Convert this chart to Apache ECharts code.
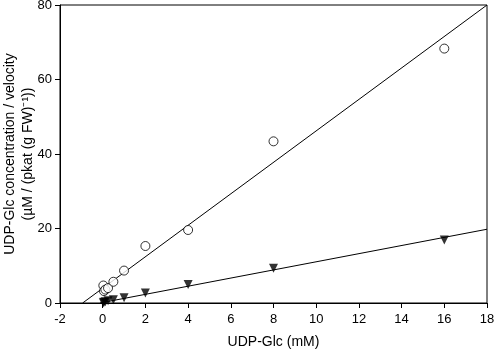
<!DOCTYPE html>
<html>
<head>
<meta charset="utf-8">
<script src="https://cdn.jsdelivr.net/npm/echarts@6/dist/echarts.min.js"></script>
<style>
  html, body { margin: 0; padding: 0; background: #fff; }
  #chart { width: 495px; height: 353px; }
</style>
</head>
<body>
<div id="chart"></div>
<script>
// UDP-Glc (mM)
var conc = [0.03, 0.06, 0.125, 0.25, 0.5, 1, 2, 4, 8, 16];
// open circles
var circleVals = [4.7, 3.2, 3.6, 4.0, 5.7, 8.7, 15.3, 19.6, 43.4, 68.3];
// filled triangles
var triVals = [0.1, 0.2, 0.35, 0.6, 0.9, 1.4, 2.7, 5.0, 9.3, 16.9];
// fitted lines (endpoints)
var circleFit = [[-0.94, 0], [18, 80]];
var triFit = [[-0.13, 0], [18, 19.8]];

var xTicks = { min: -2, max: 18, interval: 2 };
var yTicks = { min: 0, max: 80, interval: 20 };

function pairs(xs, ys) {
    return xs.map(function(x, i) { return [x, ys[i]]; });
}

var chart = echarts.init(document.getElementById('chart'));

var axisCommon = {
    axisLine: { onZero: false, lineStyle: { color: '#000', width: 1 } },
    axisTick: { show: true, inside: false, length: 5, lineStyle: { color: '#000' } },
    axisLabel: { color: '#000', fontSize: 13, fontFamily: 'Liberation Sans', margin: 8 },
    splitLine: { show: false },
    nameMoveOverlap: false,
    nameTextStyle: { color: '#000', fontSize: 14, fontFamily: 'Liberation Sans', lineHeight: 18 }
};

var option = {
    backgroundColor: '#fff',
    animation: false,
    grid: {
        left: 60, right: 8, top: 5, bottom: 50,
        outerBoundsMode: 'none', containLabel: false,
        show: true, borderColor: '#000', borderWidth: 1
    },
    xAxis: echarts.util.merge({
        type: 'value',
        min: xTicks.min, max: xTicks.max, interval: xTicks.interval,
        name: 'UDP-Glc (mM)',
        nameLocation: 'middle',
        nameGap: 30,
        axisLabel: { margin: 10 }
    }, axisCommon),
    yAxis: echarts.util.merge({
        type: 'value',
        min: yTicks.min, max: yTicks.max, interval: yTicks.interval,
        name: 'UDP-Glc concentration / velocity\n(µM / (pkat (g FW)⁻¹))',
        nameLocation: 'middle',
        nameGap: 23
    }, axisCommon),
    series: [
        {
            type: 'line',
            data: circleFit,
            symbol: 'none',
            lineStyle: { color: '#000', width: 1 },
            clip: true,
            z: 1
        },
        {
            type: 'line',
            data: triFit,
            symbol: 'none',
            lineStyle: { color: '#000', width: 1 },
            clip: true,
            z: 1
        },
        {
            type: 'scatter',
            data: pairs(conc, circleVals),
            symbol: 'circle',
            symbolSize: 9,
            itemStyle: { color: '#fff', borderColor: '#000', borderWidth: 1 },
            z: 3
        },
        {
            type: 'scatter',
            data: pairs(conc, triVals),
            symbol: 'triangle',
            symbolRotate: 180,
            symbolSize: 9,
            itemStyle: { color: '#000' },
            z: 3
        }
    ]
};

chart.setOption(option);
</script>
</body>
</html>
